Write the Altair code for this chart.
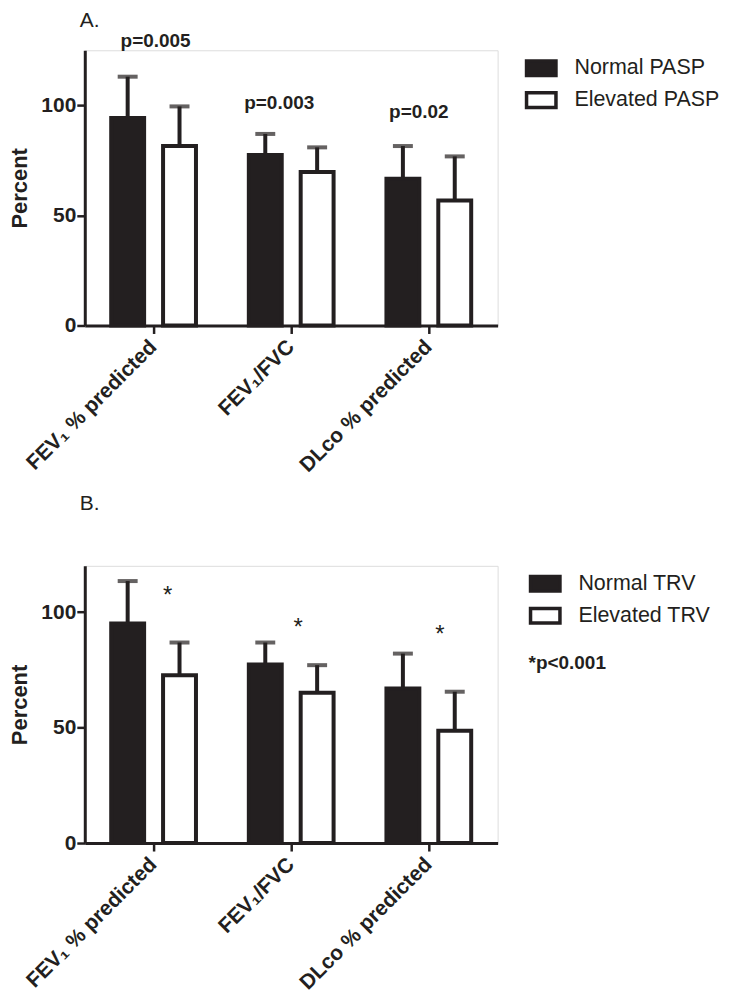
import altair as alt
import pandas as pd

# ---- data ----
categories = ["FEV₁ % predicted", "FEV₁/FVC", "DLco % predicted"]

groups_a = ["Normal PASP", "Elevated PASP"]
a_normal_mean = [94.2, 77.4, 66.6]
a_normal_top = [113.0, 87.0, 81.5]
a_elev_mean = [81.5, 69.7, 56.8]
a_elev_top = [99.5, 80.9, 76.8]
a_notes = ["p=0.005", "p=0.003", "p=0.02"]
a_note_y = [129.0, 101.0, 97.0]

groups_b = ["Normal TRV", "Elevated TRV"]
b_normal_mean = [95.0, 77.3, 66.9]
b_normal_top = [113.4, 86.8, 82.0]
b_elev_mean = [72.6, 65.1, 48.6]
b_elev_top = [86.8, 77.0, 65.5]
b_notes = ["*", "*", "*"]
b_note_y = [107.0, 93.0, 90.0]

y_ticks = [0, 50, 100]

# ---- styling (pixels) ----
INK = "#231f20"
FONT = "Liberation Sans"
PLOT_W = 414
BAR_W = 33
SHIFT = 26               # half the distance between paired bars
A_NOTE_DX = [2, -12, -10]  # nudges of the p-value labels
B_NOTE_DX = [14, 7, 11]    # nudges of the asterisks


def panel(title, groups, n_mean, n_top, e_mean, e_top, ymax, notes, note_y,
          note_dx, note_style, legend_title, legend_dx, title_offset, height):
    rows = []
    for c, m, t in zip(categories, n_mean, n_top):
        rows.append(dict(cat=c, grp=groups[0], mean=m, top=t))
    for c, m, t in zip(categories, e_mean, e_top):
        rows.append(dict(cat=c, grp=groups[1], mean=m, top=t))
    df = pd.DataFrame(rows)
    notes_df = pd.DataFrame(dict(cat=categories, label=notes, ly=note_y))

    x_axis = alt.Axis(title=None, labelAngle=-45, labelFont=FONT, labelFontSize=21,
                      labelFontWeight="bold", labelColor=INK, tickSize=8,
                      tickWidth=2.5, tickColor=INK, domainColor=INK,
                      domainWidth=3, labelPadding=10, labelBaseline="middle")
    x_scale = alt.Scale(type="band", paddingInner=0.25, paddingOuter=0.125)
    y_axis = alt.Axis(values=y_ticks, title="Percent", titleFont=FONT,
                      titleFontSize=22, titleFontWeight="bold", titleColor=INK,
                      titlePadding=9, labelFont=FONT, labelFontSize=21,
                      labelFontWeight="bold", labelColor=INK, tickSize=8,
                      tickWidth=2.5, tickColor=INK, domainColor=INK,
                      domainWidth=3, labelPadding=1, grid=False)
    y_scale = alt.Scale(domain=[0, ymax], nice=False, zero=True)

    def X():
        return alt.X("cat:N", sort=categories, scale=x_scale, axis=x_axis)

    def Y(field):
        return alt.Y(field, scale=y_scale, axis=y_axis)

    legend = alt.Legend(
        title=legend_title, titleOrient="bottom", titleFont=FONT,
        titleFontSize=19, titleFontWeight="bold", titleColor=INK,
        titlePadding=24, titleAnchor="start",
        labelFont=FONT, labelFontSize=21.5, labelColor=INK, labelOffset=26,
        symbolType="M-1,-0.73L1.95,-0.73L1.95,0.73L-1,0.73Z", symbolSize=400,
        symbolStrokeColor=INK, symbolStrokeWidth=3.5, symbolOpacity=1,
        rowPadding=2, padding=0, orient="none",
        legendX=PLOT_W + legend_dx, legendY=6,
    )
    fill = alt.Fill("grp:N", sort=groups,
                    scale=alt.Scale(domain=groups, range=[INK, "white"]),
                    legend=legend)

    layers = []
    for g, off in zip(groups, [-SHIFT, SHIFT]):
        base = alt.Chart(df).transform_filter(alt.datum.grp == g)
        layers.append(base.mark_rule(color=INK, strokeWidth=4, xOffset=off).encode(
            x=X(), y=Y("mean:Q"), y2="top:Q"))
        layers.append(base.mark_bar(stroke=INK, strokeWidth=4, width=BAR_W,
                                    xOffset=off).encode(
            x=X(), y=Y("mean:Q"), fill=fill))
        layers.append(base.mark_tick(color=INK, thickness=4, size=20,
                                     orient="horizontal", xOffset=off).encode(
            x=X(), y=Y("top:Q")))
    for c, dx in zip(categories, note_dx):
        layers.append(
            alt.Chart(notes_df).transform_filter(alt.datum.cat == c)
            .mark_text(color=INK, font=FONT, dx=dx, baseline="middle", **note_style)
            .encode(x=X(), y=Y("ly:Q"), text="label:N"))

    return alt.layer(*layers).properties(
        width=PLOT_W, height=height,
        title=alt.TitleParams(title, anchor="start", frame="group", font=FONT,
                              fontSize=21, fontWeight="normal", color=INK,
                              offset=title_offset, dx=-5),
    )


chart_a = panel("A.", groups_a, a_normal_mean, a_normal_top, a_elev_mean, a_elev_top,
                125, a_notes, a_note_y, A_NOTE_DX,
                dict(fontSize=19, fontWeight="bold"),
                None, 27, 1, 276)
chart_b = panel("B.", groups_b, b_normal_mean, b_normal_top, b_elev_mean, b_elev_top,
                120, b_notes, b_note_y, B_NOTE_DX,
                dict(fontSize=24, fontWeight="normal"),
                "*p<0.001", 31, 52, 278)

chart = alt.vconcat(chart_a, chart_b, spacing=241, bounds="flush").resolve_scale(
    fill="independent").resolve_legend(fill="independent").configure_view(
    stroke=None).properties(
    padding={"left": 0, "top": 0, "right": 0, "bottom": 0}).configure(
    background="white")

chart.save("out.html", embed_options={"renderer": "svg", "actions": False})
